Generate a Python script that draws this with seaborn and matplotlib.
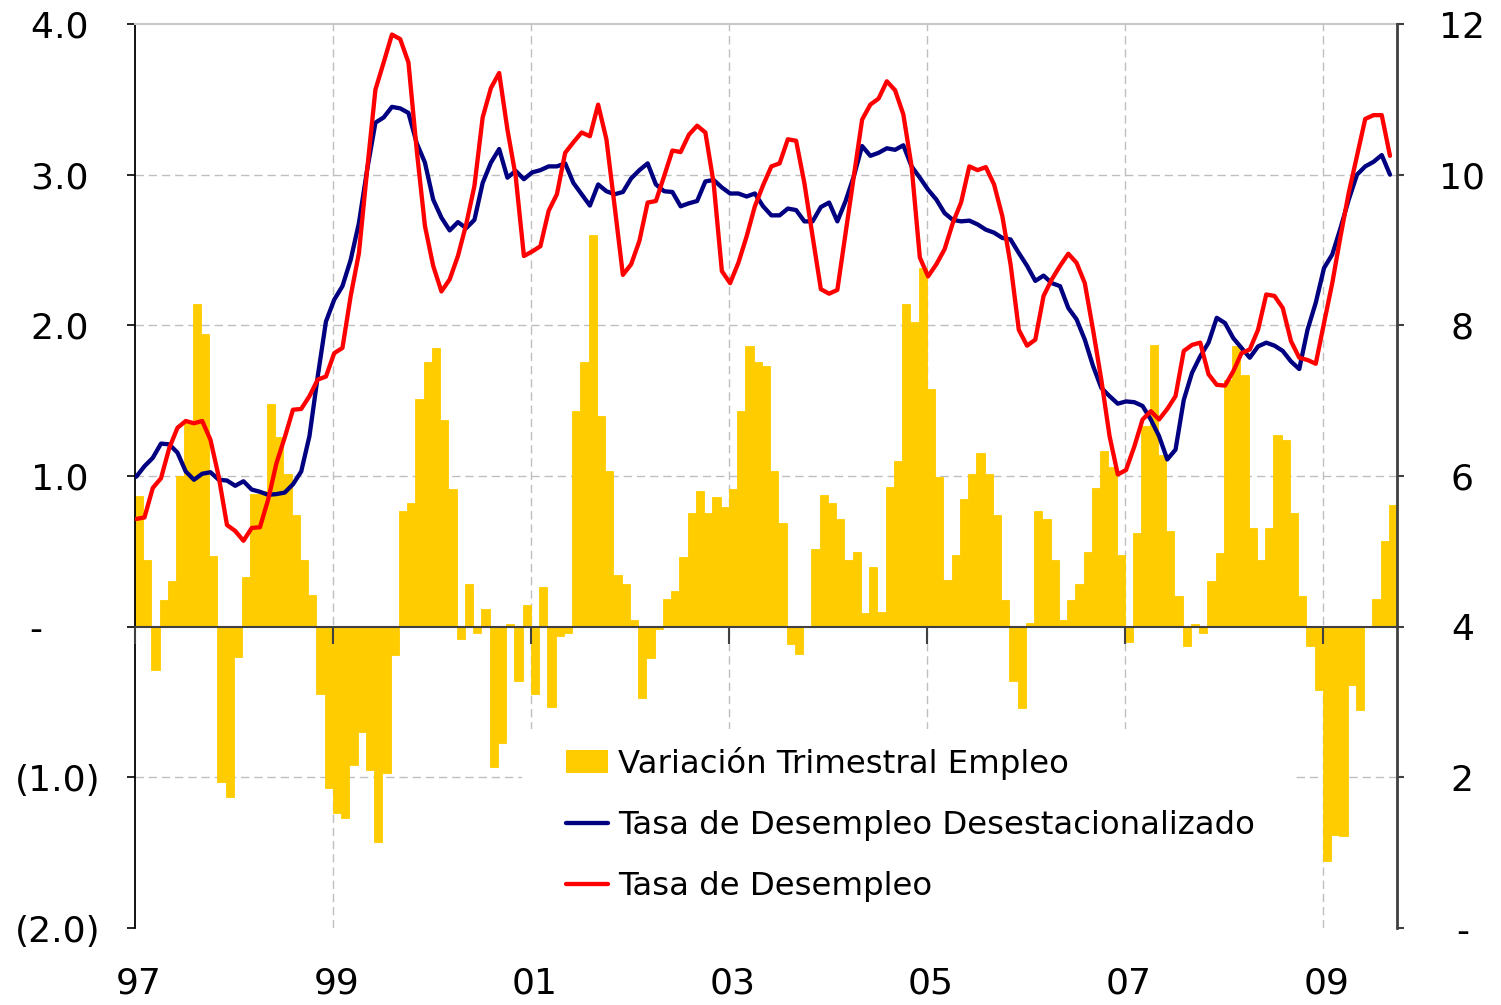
import numpy as np
import pandas as pd
import matplotlib
matplotlib.use('Agg')
import matplotlib.pyplot as plt
import seaborn as sns
from matplotlib.patches import Rectangle, Patch
from matplotlib.lines import Line2D
from matplotlib.transforms import ScaledTranslation

sns.set_theme(style='white')
plt.rcParams['font.family'] = ['DejaVu Sans']
plt.rcParams['text.color'] = 'black'

# ---------------- data (monthly, Jan 1997 - Sep 2009) ----------------
variacion_empleo = [
    0.865, 0.44, -0.285, 0.18, 0.305, 1.0, 1.35, 2.14, 1.94, 0.47, -1.03, -1.13, -0.20,
    0.33, 0.88, 0.90, 1.48, 1.26, 1.01, 0.74, 0.44, 0.21, -0.45, -1.07, -1.24,
    -1.27, -0.92, -0.70, -0.95, -1.43, -0.97, -0.19, 0.77, 0.82, 1.51, 1.755, 1.85,
    1.37, 0.915, -0.08, 0.28, -0.045, 0.12, -0.93, -0.77, 0.02, -0.36, 0.146, -0.45,
    0.265, -0.53, -0.064, -0.045, 1.43, 1.755, 2.60, 1.40, 1.036, 0.34, 0.285, 0.046,
    -0.475, -0.21, -0.018, 0.186, 0.24, 0.465, 0.757, 0.903, 0.757, 0.863, 0.797, 0.916,
    1.434, 1.86, 1.755, 1.73, 1.036, 0.69, -0.117, -0.18, 0.0, 0.518, 0.876, 0.823,
    0.717, 0.44, 0.498, 0.093, 0.398, 0.10, 0.93, 1.10, 2.14, 2.02, 2.38, 1.58,
    0.996, 0.312, 0.478, 0.85, 1.01, 1.155, 1.01, 0.744, 0.18, -0.363, -0.54, 0.025,
    0.77, 0.717, 0.445, 0.046, 0.18, 0.285, 0.498, 0.923, 1.169, 1.062, 0.478, -0.104,
    0.624, 1.33, 1.87, 1.14, 0.637, 0.206, -0.13, 0.02, -0.045, 0.305, 0.49, 1.64,
    1.86, 1.673, 0.657, 0.445, 0.657, 1.275, 1.24, 0.757, 0.206, -0.13, -0.423, -1.558,
    -1.381, -1.39, -0.385, -0.55, 0.0, 0.186, 0.57, 0.81,
]

tasa_desest = [
    5.99, 6.13, 6.24, 6.43, 6.42, 6.31, 6.06, 5.95, 6.03, 6.05,
    5.95, 5.94, 5.87, 5.93, 5.82, 5.79, 5.75, 5.76, 5.78, 5.89, 6.06,
    6.53, 7.32, 8.05, 8.34, 8.52, 8.87, 9.36, 10.07, 10.69, 10.76,
    10.90, 10.88, 10.82, 10.42, 10.16, 9.67, 9.43, 9.26, 9.37, 9.29,
    9.40, 9.89, 10.16, 10.34, 9.96, 10.05, 9.94, 10.03, 10.06, 10.11,
    10.11, 10.15, 9.89, 9.74, 9.59, 9.87, 9.78, 9.74, 9.77, 9.95,
    10.06, 10.15, 9.87, 9.78, 9.77, 9.58, 9.62, 9.65, 9.91, 9.93,
    9.83, 9.75, 9.75, 9.71, 9.75, 9.58, 9.46, 9.46, 9.55, 9.53,
    9.38, 9.38, 9.57, 9.63, 9.38, 9.65, 9.98, 10.38, 10.25, 10.29,
    10.35, 10.33, 10.39, 10.11, 9.96, 9.80, 9.67, 9.49, 9.40, 9.38,
    9.39, 9.34, 9.27, 9.23, 9.16, 9.14, 8.96, 8.79, 8.59, 8.66,
    8.56, 8.52, 8.23, 8.08, 7.81, 7.46, 7.17, 7.06, 6.96, 6.99,
    6.98, 6.93, 6.75, 6.53, 6.22, 6.35, 7.01, 7.37, 7.59, 7.77,
    8.10, 8.03, 7.83, 7.70, 7.57, 7.72, 7.77, 7.73, 7.66, 7.52,
    7.42, 7.94, 8.30, 8.76, 8.94, 9.29, 9.67, 10.00, 10.11, 10.17, 10.26, 10.00,
]

tasa_desempleo = [
    5.43, 5.45, 5.84, 5.97, 6.37, 6.64, 6.73, 6.70, 6.73, 6.48,
    5.99, 5.35, 5.27, 5.14, 5.31, 5.32, 5.69, 6.17, 6.51, 6.88, 6.89,
    7.06, 7.28, 7.32, 7.63, 7.70, 8.39, 8.96, 10.07, 11.13, 11.49,
    11.86, 11.80, 11.49, 10.33, 9.32, 8.79, 8.45, 8.61, 8.92, 9.34,
    9.85, 10.76, 11.15, 11.35, 10.60, 9.98, 8.92, 8.98, 9.05, 9.52,
    9.74, 10.29, 10.43, 10.56, 10.51, 10.93, 10.47, 9.58, 8.67, 8.81,
    9.12, 9.63, 9.65, 9.98, 10.32, 10.30, 10.53, 10.65, 10.56, 9.89,
    8.72, 8.56, 8.83, 9.18, 9.58, 9.86, 10.11, 10.15, 10.47, 10.45,
    9.89, 9.18, 8.48, 8.42, 8.47, 9.23, 9.98, 10.73, 10.93, 11.01,
    11.24, 11.12, 10.80, 10.11, 8.90, 8.65, 8.81, 9.01, 9.36, 9.63,
    10.11, 10.06, 10.10, 9.87, 9.45, 8.81, 7.94, 7.73, 7.81, 8.39,
    8.61, 8.79, 8.95, 8.83, 8.56, 7.94, 7.28, 6.53, 6.02, 6.08,
    6.39, 6.75, 6.86, 6.75, 6.89, 7.06, 7.66, 7.74, 7.77, 7.35,
    7.21, 7.20, 7.39, 7.63, 7.68, 7.94, 8.41, 8.39, 8.23, 7.79,
    7.57, 7.54, 7.49, 8.03, 8.56, 9.18, 9.76, 10.25, 10.74, 10.79, 10.79, 10.25,
]

x_tick_pos = [0, 24, 48, 72, 96, 120, 144]
x_tick_labels = ['97', '99', '01', '03', '05', '07', '09']
left_ticks = [-2, -1, 0, 1, 2, 3, 4]
left_labels = ['(2.0)', '(1.0)', '-     ', '1.0 ', '2.0 ', '3.0 ', '4.0 ']
right_ticks = [0, 2, 4, 6, 8, 10, 12]
right_labels = ['-', '2', '4', '6', '8', '10', '12']
legend_labels = ['Variación Trimestral Empleo',
                 'Tasa de Desempleo Desestacionalizado',
                 'Tasa de Desempleo']

YELLOW = '#FFCC00'
NAVY = '#000080'
RED = '#FF0000'
GRID = '#BFBFBF'

n = len(variacion_empleo)
months = np.arange(n)
df_bar = pd.DataFrame({'x': months + 0.5, 'v': variacion_empleo})
df_lines = pd.DataFrame({'x': months + 0.15, 'desest': tasa_desest, 'tasa': tasa_desempleo})

fig = plt.figure(figsize=(15.01, 10.05), dpi=100)
ax1 = fig.add_axes([135 / 1501, 77 / 1005, 1262 / 1501, 904 / 1005])

sns.barplot(data=df_bar, x='x', y='v', native_scale=True, width=1.0, color=YELLOW,
            saturation=1, errorbar=None, ax=ax1, linewidth=0.6, edgecolor=YELLOW)

ax1.set_xlim(0, n)
ax1.set_ylim(-2, 4)
ax1.set_xlabel('')
ax1.set_ylabel('')
ax1.set_axisbelow(True)

ax1.set_xticks(x_tick_pos)
ax1.set_xticklabels(x_tick_labels)
ax1.set_yticks(left_ticks)
ax1.set_yticklabels(left_labels)
ax1.tick_params(axis='x', length=0, pad=28, labelsize=26, labelcolor='black')
ax1.tick_params(axis='y', direction='out', length=6, width=1.2, color='black',
                pad=19, labelsize=26, labelcolor='black', left=True)
shift = ScaledTranslation(4 / 100, 0, fig.dpi_scale_trans)
for lab in ax1.get_xticklabels():
    lab.set_transform(lab.get_transform() + shift)

ax1.grid(True, axis='both', linestyle=(0, (6, 3.5)), color=GRID, linewidth=1.0)
for gl, v in zip(ax1.yaxis.get_gridlines(), left_ticks):
    if v in (-2, 0, 4):
        gl.set_visible(False)
for gl, v in zip(ax1.xaxis.get_gridlines(), x_tick_pos):
    if v == 0:
        gl.set_visible(False)

# white box behind legend hiding gridlines
ax1.add_patch(Rectangle((0.3067, 0.0), 0.6101, 0.2201, transform=ax1.transAxes,
                        facecolor='white', edgecolor='none', zorder=0.8))

ax1.spines['left'].set_color('black')
ax1.spines['left'].set_linewidth(1.3)
ax1.spines['top'].set_color('#C8C8C8')
ax1.spines['top'].set_linewidth(1.5)
ax1.spines['bottom'].set_visible(False)
ax1.spines['right'].set_visible(False)

# zero line with year ticks
sec = ax1.secondary_xaxis(1 / 3)
sec.set_xticks(x_tick_pos)
sec.tick_params(axis='x', direction='out', length=12, width=1.5, color='#404040',
                labelbottom=False, labeltop=False)
sec.spines['bottom'].set_color('#404040')
sec.spines['bottom'].set_linewidth(1.5)
sec.set_zorder(5)

ax2 = ax1.twinx()
sns.lineplot(data=df_lines, x='x', y='desest', color=NAVY, linewidth=3.1, ax=ax2)
sns.lineplot(data=df_lines, x='x', y='tasa', color=RED, linewidth=3.1, ax=ax2)
ax2.set_ylim(0, 12)
ax2.set_xlim(0, n)
ax2.set_ylabel('')
ax2.set_xlabel('')
ax2.set_yticks(right_ticks)
ax2.set_yticklabels(right_labels)
ax2.tick_params(axis='y', direction='out', length=5, width=1.5, color='#404040',
                pad=42, labelsize=26, labelcolor='black', right=True)
for lab in ax2.get_yticklabels():
    lab.set_horizontalalignment('center')
ax2.grid(False)
for s in ('left', 'top', 'bottom'):
    ax2.spines[s].set_visible(False)
ax2.spines['right'].set_color('#404040')
ax2.spines['right'].set_linewidth(2.0)

handles = [Patch(facecolor=YELLOW, edgecolor='none'),
           Line2D([], [], color=NAVY, linewidth=3.1),
           Line2D([], [], color=RED, linewidth=3.1)]
ax2.legend(handles, legend_labels, loc='upper left',
           bbox_to_anchor=(566 / 1501, (1005 - 747) / 1005), bbox_transform=fig.transFigure,
           frameon=False, fontsize=23.3, borderpad=0, borderaxespad=0, labelcolor='black',
           handlelength=1.3, handleheight=0.7, handletextpad=0.3, labelspacing=0.93)

fig.savefig('out.png', dpi=100)
